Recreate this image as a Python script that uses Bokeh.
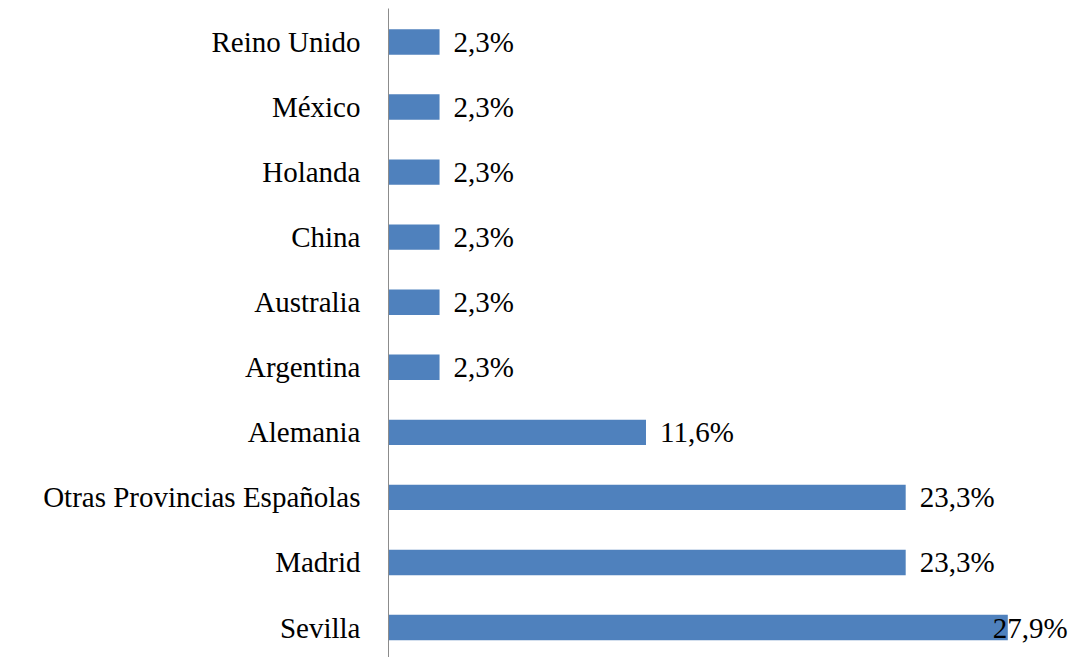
from bokeh.plotting import figure
from bokeh.models import Range1d, FixedTicker, ColumnDataSource
from bokeh.core.properties import value
from bokeh.embed import file_html
from bokeh.resources import INLINE

categories = ["Sevilla", "Madrid", "Otras Provincias Españolas", "Alemania",
              "Argentina", "Australia", "China", "Holanda", "México", "Reino Unido"]
values = [27.9, 23.3, 23.3, 11.6, 2.3, 2.3, 2.3, 2.3, 2.3, 2.3]
labels = ["27,9%", "23,3%", "23,3%", "11,6%", "2,3%", "2,3%", "2,3%", "2,3%", "2,3%", "2,3%"]

pos = list(range(len(categories)))
vmax = max(values)
offsets = [-15 if v == vmax else 14 for v in values]

src = ColumnDataSource(dict(y=pos, v=values, lab=labels, off=offsets))

p = figure(width=1075, height=657, output_backend="svg", toolbar_location=None,
           x_range=Range1d(0, 30.95), y_range=Range1d(-0.461, 9.514),
           min_border_left=388, min_border_right=0, min_border_top=8, min_border_bottom=0)
p.outline_line_color = None
p.xgrid.visible = False
p.ygrid.visible = False
p.xaxis.visible = False

p.hbar(y="y", right="v", left=0, height=0.39, source=src,
       fill_color="#4F81BD", line_color=None)
p.text(x="v", y="y", text="lab", x_offset="off", source=src,
       text_font=value("Liberation Serif"), text_font_size="29px",
       text_baseline="middle", text_align="left", text_color="black")

ya = p.yaxis[0]
ya.ticker = FixedTicker(ticks=pos)
ya.major_label_overrides = {i: c for i, c in enumerate(categories)}
ya.major_label_text_font = "Liberation Serif"
ya.major_label_text_font_size = "29px"
ya.major_label_text_color = "black"
ya.major_tick_line_color = None
ya.minor_tick_line_color = None
ya.major_tick_out = 0
ya.major_tick_in = 0
ya.minor_tick_out = 0
ya.major_label_standoff = 28
ya.axis_line_color = "#8C8C8C"

open("out.html", "w").write(file_html(p, INLINE))
